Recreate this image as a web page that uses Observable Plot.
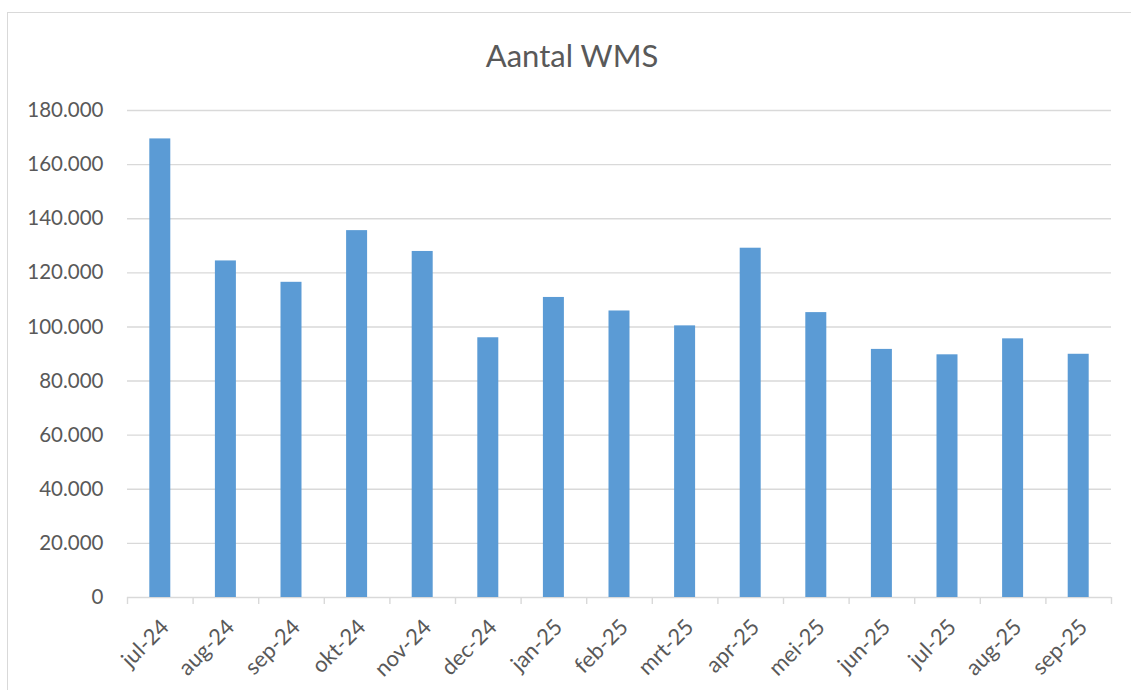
<!DOCTYPE html>
<html><head><meta charset="utf-8">
<script src="https://cdn.jsdelivr.net/npm/d3@7"></script>
<script src="https://cdn.jsdelivr.net/npm/@observablehq/plot@0.6"></script>
<style>
body{margin:0;background:#fff;}
#wrap{position:relative;width:1131px;height:690px;overflow:hidden;font-family:Lato,sans-serif;background:#fff;}
#border{position:absolute;left:7px;top:12px;width:1140px;height:700px;border:1px solid #d9d9d9;box-sizing:border-box;}
#title{position:absolute;left:0;top:40px;width:1144px;text-align:center;font-size:31px;line-height:1;color:#595959;font-family:Lato,sans-serif;}
#chart{position:absolute;left:0;top:0;}
</style></head>
<body>
<div id="wrap"><div id="border"></div><div id="title">Aantal WMS</div><div id="chart"></div></div>
<script>
const months = ["jul-24","aug-24","sep-24","okt-24","nov-24","dec-24","jan-25","feb-25","mrt-25","apr-25","mei-25","jun-25","jul-25","aug-25","sep-25"];
const values = [169500,124400,116500,135600,127900,96000,110900,105900,100400,129100,105300,91700,89700,95600,89900];
const yTicks = [0,20000,40000,60000,80000,100000,120000,140000,160000,180000];

const data = months.map((m,i)=>({month:m, value:values[i]}));
const fmt = d => d3.format(",")(d).replace(/,/g,".");
const step = (1111-127)/months.length;

const chart = Plot.plot({
  width:1131, height:690,
  marginLeft:127, marginRight:20, marginTop:110, marginBottom:93,
  style:{fontFamily:"Lato, sans-serif", fontSize:"20px", color:"#595959", background:"transparent"},
  x:{domain:months, paddingInner:0.68, paddingOuter:0.34, round:false, label:null},
  y:{domain:[0,180000], label:null},
  marks:[
    Plot.gridY(yTicks,{stroke:"#d9d9d9", strokeOpacity:1, strokeWidth:1.4}),
    Plot.axisY(yTicks,{tickSize:0, tickPadding:24, tickFormat:fmt, fontSize:20.5, label:null}),
    Plot.ruleX(months,{x:d=>d, y1:0, y2:0, insetBottom:-7, dx:-step/2, stroke:"#d9d9d9", strokeWidth:1.4}),
    Plot.ruleX([months[months.length-1]],{x:d=>d, y1:0, y2:0, insetBottom:-7, dx:step/2, stroke:"#d9d9d9", strokeWidth:1.4}),
    Plot.barY(data,{x:"month", y:"value", fill:"#5B9BD5"}),
    Plot.axisX({tickSize:0, tickPadding:22, dx:5, dy:4, tickRotate:-45, fontSize:22, label:null})
  ]
});
document.getElementById("chart").appendChild(chart);
</script>
</body></html>
